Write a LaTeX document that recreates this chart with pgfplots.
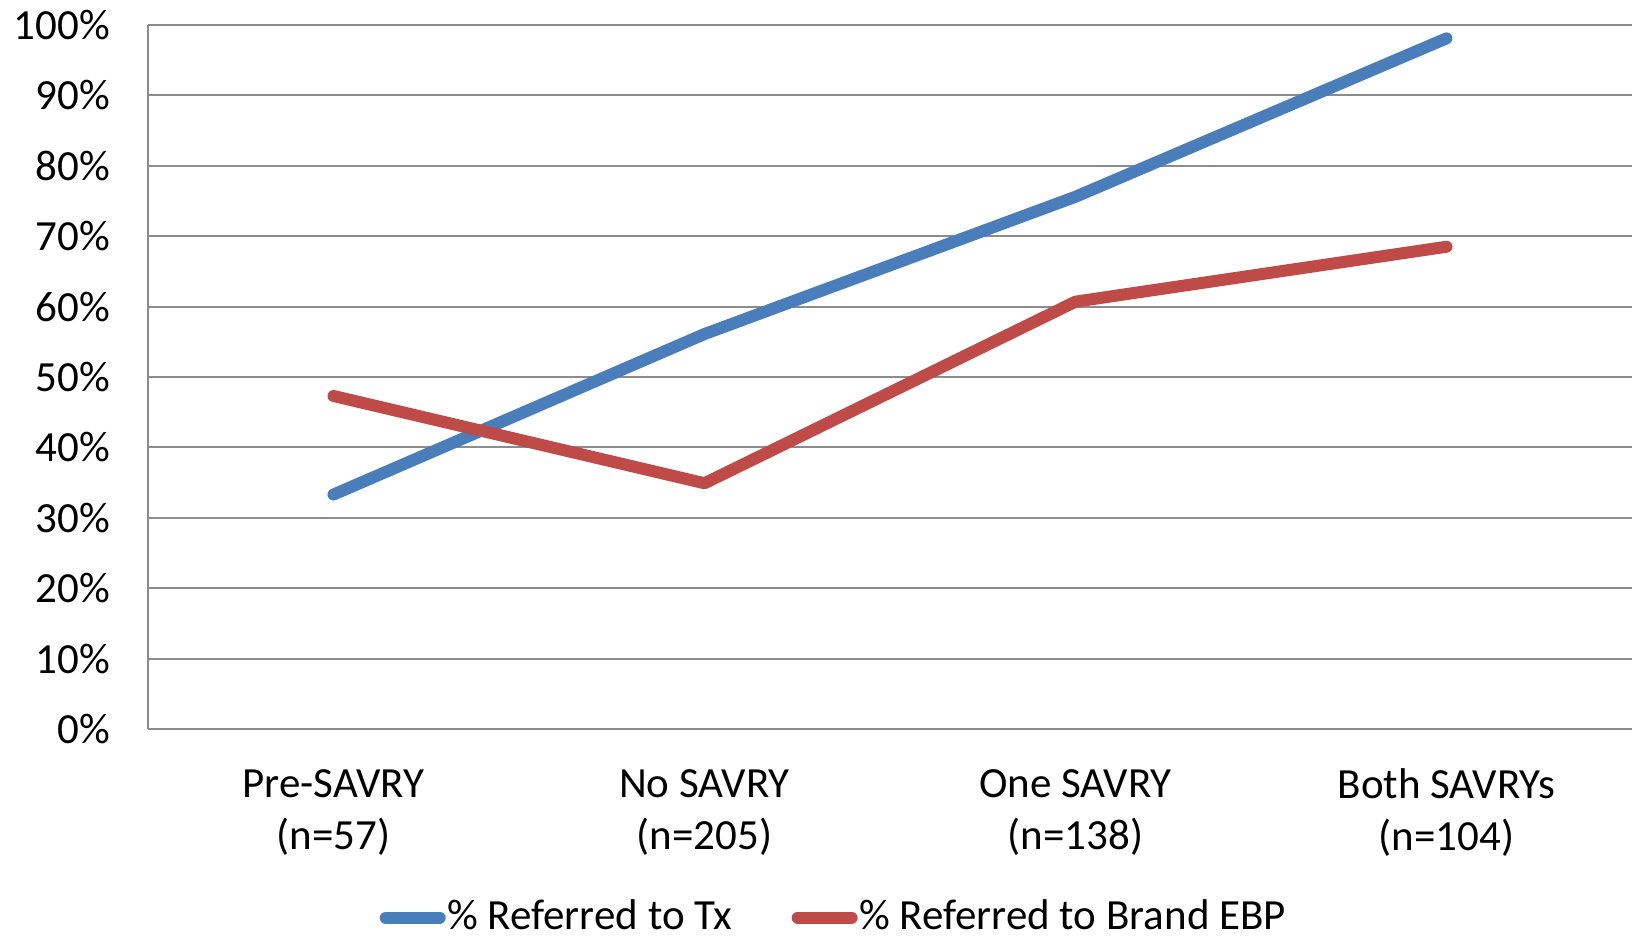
\documentclass[border=0pt]{standalone}
\usepackage{fontspec}
\setmainfont{Carlito}
\usepackage{pgfplots}
\pgfplotsset{compat=1.18}
\definecolor{serblue}{HTML}{4A7EBB}
\definecolor{serred}{HTML}{BE4B48}
\definecolor{gridgray}{HTML}{8C8C8C}
\begin{document}
\begin{tikzpicture}
\path[use as bounding box] (-37pt,-52.5pt) rectangle (371pt,182.25pt);
\begin{axis}[
  at={(0,0)}, anchor=south west,
  scale only axis,
  width=371pt, height=176pt,
  xmin=-0.5, xmax=3.5,
  ymin=0, ymax=100,
  xtick={0,1,2,3},
  xticklabels={{Pre-SAVRY\\(n=57)},{No SAVRY\\(n=205)},{One SAVRY\\(n=138)},{Both SAVRYs\\(n=104)}},
  ytick={0,10,...,100},
  yticklabel={\pgfmathprintnumber{\tick}\%},
  /pgf/number format/assume math mode=true,
  tick label style={font=\fontsize{10.75}{13}\selectfont},
  xticklabel style={align=center, yshift=-6.5pt},
  yticklabel style={xshift=-6pt},
  major tick length=0pt,
  ymajorgrids,
  grid style={gridgray, line width=0.5pt},
  axis x line*=bottom, axis y line*=left,
  axis line style={gridgray, line width=0.5pt, -},
  legend columns=2,
  legend style={at={(0.462,-0.268)}, anchor=center, draw=none, fill=none,
    font=\fontsize{10.75}{13}\selectfont,
    /tikz/every even column/.append style={column sep=14.5pt},
    inner sep=0pt, nodes={inner sep=0.4pt}},
  legend image code/.code={\draw[#1, line cap=round] (0pt,0pt) -- (13.5pt,0pt);},
]
\addplot[serblue, line width=3pt, line cap=round, line join=round] coordinates {(0,33.3) (1,56.1) (2,75.6) (3,98.1)};
\addlegendentry{\% Referred to Tx}
\addplot[serred, line width=3pt, line cap=round, line join=round] coordinates {(0,47.3) (1,34.9) (2,60.7) (3,68.5)};
\addlegendentry{\% Referred to Brand EBP}
\end{axis}
\end{tikzpicture}
\end{document}
